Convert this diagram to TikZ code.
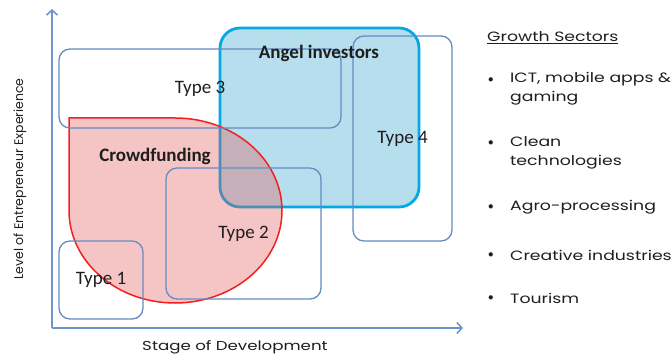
\documentclass[tikz,border=0pt]{standalone}
\usepackage{fontspec}
\setmainfont{Carlito}
\newfontfamily\geo{Poppins}
\newfontfamily\geow[FakeStretch=1.28]{Poppins}
\usetikzlibrary{arrows.meta}
\definecolor{boxblue}{RGB}{100,140,195}
\definecolor{axisblue}{RGB}{110,150,205}
\definecolor{angelline}{RGB}{0,170,230}
\definecolor{angelfill}{RGB}{183,222,236}
\definecolor{crowdline}{RGB}{245,30,30}
\definecolor{crowdfill}{RGB}{225,90,90}
\definecolor{txt}{RGB}{30,30,30}
\tikzset{
  tbox/.style={draw=boxblue, line width=1.3pt, rounded corners=11pt, inner sep=0pt,
    font=\fontsize{19}{19}\selectfont, text=txt},
  angelbox/.style={draw=angelline, fill=angelfill, line width=2.8pt, rounded corners=20pt, inner sep=0pt},
  axisline/.style={draw=axisblue, line width=1.6pt, -{Straight Barb[length=5pt,width=11pt]}},
  lbl/.style={font=\bfseries\fontsize{19}{19}\selectfont, text=txt, inner sep=0pt},
  sect/.style={font=\geow\fontsize{13.5}{19}\selectfont, text=txt, anchor=west, inner sep=0pt, align=left},
  bul/.style={font=\geo\bfseries\fontsize{14}{14}\selectfont, text=txt, inner sep=0pt}
}
\begin{document}
\begin{tikzpicture}[x=1pt,y=-1pt]
\useasboundingbox (0,0) rectangle (672,358);
% axes
\coordinate (o) at (52,328);
\coordinate (ytop) at (52,9);
\coordinate (xend) at (463,328);
\draw[axisline] (o) -- (ytop);
\draw[axisline] (o) -- (xend);
\node[font=\geow\fontsize{13}{13}\selectfont, text=txt] (xl) at (235,347) {Stage of Development};
\node[font=\geo\fontsize{12.5}{12.5}\selectfont, text=txt, rotate=90] (yl) at (20,179) {Level of Entrepreneur Experience};
% angel investors
\node[angelbox, minimum width=199pt, minimum height=179pt] (angel) at (319.5,117.5) {};
% crowdfunding
\fill[crowdfill, opacity=0.35] (69,118) -- (175,118) arc[start angle=90, end angle=-90, x radius=107pt, y radius=92.5pt]
   arc[start angle=-90, end angle=-180, x radius=106pt, y radius=92.5pt] -- cycle;
\draw[crowdline, line width=1.5pt] (69,118) -- (175,118) arc[start angle=90, end angle=-90, x radius=107pt, y radius=92.5pt]
   arc[start angle=-90, end angle=-180, x radius=106pt, y radius=92.5pt] -- cycle;
% type boxes
\node[tbox, minimum width=282pt, minimum height=79pt] (t3) at (200,88.5) {Type 3};
\node[tbox, minimum width=99pt, minimum height=205pt] (t4) at (402.5,138.5) {Type 4};
\node[tbox, minimum width=84pt, minimum height=78pt] (t1) at (101,280) {Type 1};
\node[tbox, minimum width=155pt, minimum height=131pt] (t2) at (243.5,233.5) {Type 2};
\node[lbl] (al) at (319,53) {Angel investors};
\node[lbl] (cl) at (155,156) {Crowdfunding};
% growth sectors
\node[sect] (gs) at (487,38) {\underline{Growth Sectors}};
\node[bul] (b1) at (491,81) {•};
\node[sect] (s1) at (510,89) {ICT, mobile apps \&\\gaming};
\node[bul] (b2) at (491,144) {•};
\node[sect] (s2) at (510,153) {Clean\\technologies};
\node[bul] (b3) at (491,208) {•};
\node[sect] (s3) at (510,207) {Agro-processing};
\node[bul] (b4) at (491,256) {•};
\node[sect] (s4) at (510,255) {Creative industries};
\node[bul] (b5) at (491,299) {•};
\node[sect] (s5) at (510,298) {Tourism};
\end{tikzpicture}
\end{document}
